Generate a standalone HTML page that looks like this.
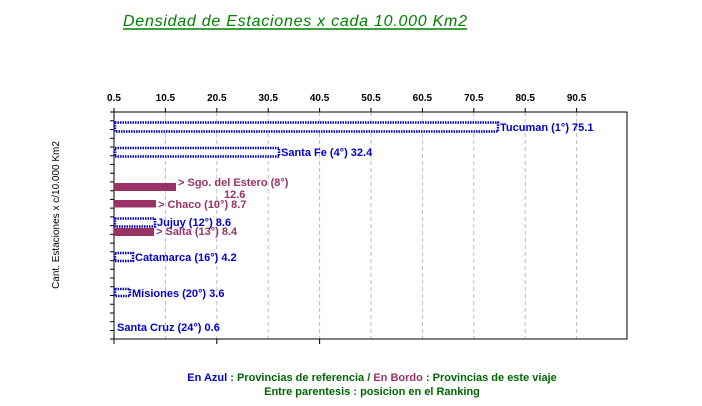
<!DOCTYPE html>
<html><head><meta charset="utf-8"><style>
html,body{margin:0;padding:0;background:#fff;}
svg{display:block;font-family:"Liberation Sans",Arial,sans-serif;}
</style></head><body>
<svg width="702" height="406" viewBox="0 0 702 406">
<rect width="702" height="406" fill="#fff"/>
<text x="123" y="26" font-size="16" font-style="italic" fill="#008000" textLength="344" lengthAdjust="spacing">Densidad de Estaciones x cada 10.000 Km2</text>
<line x1="123" y1="29" x2="467" y2="29" stroke="#008000" stroke-width="1.5"/>
<!-- grid -->
<g stroke="#bbb" stroke-dasharray="4,3" stroke-width="1">
<line x1="165.4" y1="112" x2="165.4" y2="339"/>
<line x1="216.8" y1="112" x2="216.8" y2="339"/>
<line x1="268.2" y1="112" x2="268.2" y2="339"/>
<line x1="319.6" y1="112" x2="319.6" y2="339"/>
<line x1="371" y1="112" x2="371" y2="339"/>
<line x1="422.4" y1="112" x2="422.4" y2="339"/>
<line x1="473.8" y1="112" x2="473.8" y2="339"/>
<line x1="525.2" y1="112" x2="525.2" y2="339"/>
<line x1="576.6" y1="112" x2="576.6" y2="339"/>
</g>
<g stroke="#000" stroke-width="1">
<rect x="114" y="112" width="513" height="227" fill="none"/>
<line x1="114" y1="112" x2="114" y2="108"/><line x1="165.4" y1="112" x2="165.4" y2="108"/><line x1="216.8" y1="112" x2="216.8" y2="108"/><line x1="268.2" y1="112" x2="268.2" y2="108"/><line x1="319.6" y1="112" x2="319.6" y2="108"/><line x1="371" y1="112" x2="371" y2="108"/><line x1="422.4" y1="112" x2="422.4" y2="108"/><line x1="473.8" y1="112" x2="473.8" y2="108"/><line x1="525.2" y1="112" x2="525.2" y2="108"/><line x1="576.6" y1="112" x2="576.6" y2="108"/>
<line x1="114" y1="339" x2="114" y2="344"/><line x1="216.8" y1="339" x2="216.8" y2="344"/><line x1="319.6" y1="339" x2="319.6" y2="344"/>
</g>
<g stroke="#000">
<path d="M110 112h4M110 120.7h4M110 129.5h4M110 138.2h4M110 147h4M110 155.7h4M110 164.4h4M110 173.2h4M110 181.9h4M110 190.7h4M110 199.4h4M110 208.1h4M110 216.9h4M110 225.6h4M110 234.3h4M110 243.1h4M110 251.8h4M110 260.6h4M110 269.3h4M110 278h4M110 286.8h4M110 295.5h4M110 304.3h4M110 313h4M110 321.7h4M110 330.5h4M110 339h4"/>
</g>
<g font-size="10" font-weight="bold" text-anchor="middle" fill="#000">
<text x="114" y="101">0.5</text><text x="165.4" y="101">10.5</text><text x="216.8" y="101">20.5</text><text x="268.2" y="101">30.5</text><text x="319.6" y="101">40.5</text><text x="371" y="101">50.5</text><text x="422.4" y="101">60.5</text><text x="473.8" y="101">70.5</text><text x="525.2" y="101">80.5</text><text x="576.6" y="101">90.5</text>
</g>
<text transform="translate(59,215) rotate(-90)" font-size="10" text-anchor="middle" fill="#000">Cant. Estaciones x c/10.000 Km2</text>
<!-- blue bars -->
<g fill="#fff" stroke="#0000cc" stroke-width="2.5" stroke-dasharray="1.5,1">
<rect x="115" y="122.5" width="383" height="9"/>
<rect x="115" y="148" width="164" height="8.5"/>
<rect x="115" y="218.5" width="40" height="8"/>
<rect x="115" y="253" width="18" height="8"/>
<rect x="115" y="289" width="15" height="7"/>
</g>
<!-- bordo bars -->
<g fill="#993366">
<rect x="114" y="183" width="62" height="8"/>
<rect x="114" y="200" width="42" height="7.5"/>
<rect x="114" y="228" width="40" height="8"/>
</g>
<g font-size="11" font-weight="bold">
<text x="500" y="131" fill="#0000cc">Tucuman (1°) 75.1</text>
<text x="281" y="156" fill="#0000cc">Santa Fe (4°) 32.4</text>
<text x="178" y="186" fill="#993366">&gt; Sgo. del Estero (8°)</text>
<text x="224" y="198" fill="#993366">12.6</text>
<text x="158" y="208" fill="#993366">&gt; Chaco (10°) 8.7</text>
<text x="156" y="235" fill="#993366">&gt; Salta (13°) 8.4</text>
<text x="157" y="226" fill="#0000cc">Jujuy (12°) 8.6</text>
<text x="135" y="261" fill="#0000cc">Catamarca (16°) 4.2</text>
<text x="132" y="297" fill="#0000cc">Misiones (20°) 3.6</text>
<text x="117" y="331" fill="#0000cc">Santa Cruz (24°) 0.6</text>
</g>
<g font-size="11" font-weight="bold" text-anchor="middle">
<text x="372" y="381"><tspan fill="#0000cc">En Azul</tspan><tspan fill="#006600"> : Provincias de referencia / </tspan><tspan fill="#993366">En Bordo</tspan><tspan fill="#006600"> : Provincias de este viaje</tspan></text>
<text x="372" y="395" fill="#006600">Entre parentesis : posicion en el Ranking</text>
</g>
</svg>
</body></html>
